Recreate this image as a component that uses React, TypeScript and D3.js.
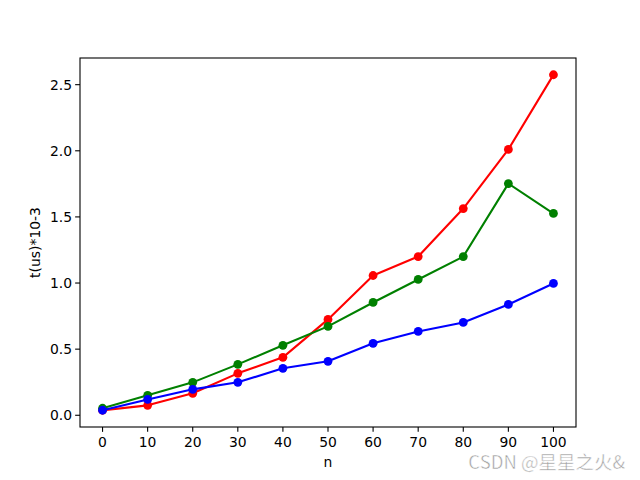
import React from "react";
import * as d3 from "d3";

const nValues = [0, 10, 20, 30, 40, 50, 60, 70, 80, 90, 100];
const redSeries = [0.038, 0.075, 0.166, 0.317, 0.438, 0.725, 1.057, 1.2, 1.563, 2.01, 2.575];
const greenSeries = [0.053, 0.151, 0.249, 0.385, 0.529, 0.672, 0.853, 1.027, 1.2, 1.752, 1.526];
const blueSeries = [0.038, 0.12, 0.196, 0.249, 0.355, 0.408, 0.544, 0.634, 0.702, 0.838, 0.997];
const xTicks = [0, 10, 20, 30, 40, 50, 60, 70, 80, 90, 100];
const yTicks = [0.0, 0.5, 1.0, 1.5, 2.0, 2.5];
const seriesList = [
  { name: "red", color: "#ff0000", values: redSeries },
  { name: "green", color: "#008000", values: greenSeries },
  { name: "blue", color: "#0000ff", values: blueSeries },
];

export default function App() {
  const W = 640, H = 480;
  const left = 80, right = 576, top = 58, bottom = 427;
  const x = d3.scaleLinear().domain([-5, 105]).range([left, right]);
  const y = d3.scaleLinear().domain([-0.0887, 2.7017]).range([bottom, top]);
  const line = d3.line<number>().x((_, i) => x(nValues[i])).y((d) => y(d));
  const font = "DejaVu Sans, sans-serif";
  return (
    <svg width={W} height={H} style={{ position: "absolute", left: 0, top: 0 }} fontFamily={font}>
      <rect width={W} height={H} fill="#fff" />
      {seriesList.map((s) => (
        <g key={s.name}>
          <path d={line(s.values) || ""} fill="none" stroke={s.color} strokeWidth={2.08} strokeLinejoin="round" strokeLinecap="square" />
          {s.values.map((v, i) => (
            <circle key={i} cx={x(nValues[i])} cy={y(v)} r={4.4} fill={s.color} />
          ))}
        </g>
      ))}
      <rect x={left} y={top} width={right - left} height={bottom - top} fill="none" stroke="#000" strokeWidth={1.1} />
      {xTicks.map((t) => (
        <g key={t}>
          <line x1={x(t)} x2={x(t)} y1={bottom} y2={bottom + 4.86} stroke="#000" strokeWidth={1.1} />
          <text x={x(t)} y={bottom + 20} textAnchor="middle" fontSize={13.9} fill="#000">{t}</text>
        </g>
      ))}
      {yTicks.map((t) => (
        <g key={t}>
          <line x1={left} x2={left - 4.86} y1={y(t)} y2={y(t)} stroke="#000" strokeWidth={1.1} />
          <text x={left - 8} y={y(t)} dy="0.35em" textAnchor="end" fontSize={13.9} fill="#000">{t.toFixed(1)}</text>
        </g>
      ))}
      <text x={(left + right) / 2} y={467} textAnchor="middle" fontSize={13.9} fill="#000">n</text>
      <text transform={`translate(40,${(top + bottom) / 2}) rotate(-90)`} textAnchor="middle" fontSize={13.9} fill="#000">t(us)*10-3</text>
      <text x={625} y={469} textAnchor="end" fontSize={18.5} fill="#a0a0a0" stroke="#fff" strokeWidth={0.5} fontFamily="Noto Sans CJK SC, sans-serif">CSDN @星星之火&amp;</text>
    </svg>
  );
}
